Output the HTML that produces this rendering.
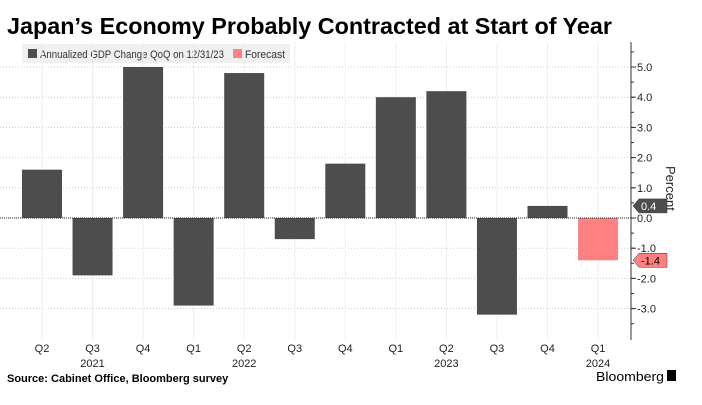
<!DOCTYPE html>
<html><head><meta charset="utf-8"><style>
body{margin:0;width:702px;height:400px;background:#fff;overflow:hidden;font-family:"Liberation Sans",sans-serif}
</style></head><body>
<svg width="702" height="400">
<text x="7" y="34" font-size="23" font-weight="bold" fill="#000" textLength="605" lengthAdjust="spacingAndGlyphs">Japan’s Economy Probably Contracted at Start of Year</text>
<g>
<rect x="22" y="44" width="268" height="19" fill="#f0f0f0"/>
<rect x="28" y="49" width="9" height="9" fill="#4d4d4d"/>
<text x="40" y="58" font-size="11" fill="#333" textLength="184" lengthAdjust="spacingAndGlyphs">Annualized GDP Change QoQ on 12/31/23</text>
<rect x="233" y="49" width="9" height="9" fill="#ff8080"/>
<text x="245" y="58" font-size="11" fill="#333" textLength="40" lengthAdjust="spacingAndGlyphs">Forecast</text>
</g>
<g id="grid"></g>
<g id="bars"></g>
<g id="axis"></g>
<text x="7" y="382" font-size="11" font-weight="bold" fill="#000">Source: Cabinet Office, Bloomberg survey</text>
<text x="596" y="381" font-size="13" fill="#000" textLength="68" lengthAdjust="spacingAndGlyphs">Bloomberg</text>
<rect x="667" y="370" width="9" height="11" fill="#000"/>
</svg>
<script>
const categories=["Q2","Q3","Q4","Q1","Q2","Q3","Q4","Q1","Q2","Q3","Q4","Q1"];
const yearLabels=["","2021","","","2022","","","","2023","","","2024"];
const values=[1.6,-1.9,5.0,-2.9,4.8,-0.7,1.8,4.0,4.2,-3.2,0.4,-1.4];
const forecast=[false,false,false,false,false,false,false,false,false,false,false,true];
const ticks=[5,4,3,2,1,0,-1,-2,-3];
const NS="http://www.w3.org/2000/svg";
const L=0,R=631,T=42,B=340;
const y=v=>218-v*30.2;
const slot=50.55;
const xc=i=>42+slot*i;
function mk(t,a,p){const e=document.createElementNS(NS,t);for(const k in a)e.setAttribute(k,a[k]);p.appendChild(e);return e;}
const g=document.getElementById('grid'),b=document.getElementById('bars'),ax=document.getElementById('axis');
ticks.forEach(t=>{
 const l=mk('line',{x1:L,x2:R,y1:y(t),y2:y(t),stroke:'#ccc','stroke-dasharray':'1,2'},g);
 
 
 const tl=mk('line',{x1:R,x2:R+5,y1:y(t),y2:y(t),stroke:'#333'},ax);
 
 
 const tx=mk('text',{x:R+6,y:y(t)+4,'font-size':11,fill:'#222'},ax);
 tx.textContent=(t<0?'-':'')+Math.abs(t).toFixed(1);
 
 
});
for(let t=5.5;t>-4;t-=0.5){mk('line',{x1:R,x2:R+3,y1:y(t),y2:y(t),stroke:'#333'},ax);}
categories.forEach((c,i)=>{
 const vl=mk('line',{x1:xc(i),x2:xc(i),y1:T,y2:B,stroke:'#eee'},g);
 
 
 const v=values[i];
 const r=mk('rect',{x:xc(i)-20,width:40,y:Math.min(y(v),y(0)),height:Math.abs(y(v)-y(0)),fill:forecast[i]?'#ff8080':'#4d4d4d'},b);
 
 
 const tx=mk('text',{x:xc(i),y:352,'font-size':11,fill:'#222','text-anchor':'middle'},ax);
 tx.textContent=c;
 
 
 if(yearLabels[i]){const yt=mk('text',{x:xc(i),y:367,'font-size':11,fill:'#222','text-anchor':'middle'},ax);yt.textContent=yearLabels[i];
 
 }
});
mk('line',{x1:L,x2:R,y1:y(0),y2:y(0),stroke:'#222','stroke-dasharray':'1,1'},b);
const axl=mk('line',{x1:R,x2:R,y1:T,y2:B,stroke:'#333'},ax);


const yt=mk('text',{transform:`translate(666,166) rotate(90)`,'font-size':13,fill:'#222'},ax);
yt.textContent='Percent';


[[10,'#4d4d4d','#fff'],[11,'#ff8080','#000']].forEach(([i,bg,fg])=>{
 const yy=y(values[i]);
 const p=mk('path',{d:`M${R+2},${yy} L${R+8},${yy-7} H${R+36} V${yy+7} H${R+8} Z`,fill:bg,stroke:'#333','stroke-width':0.5},ax);
 
 
 const t=mk('text',{x:R+10,y:yy+4,'font-size':11,fill:fg},ax);
 t.textContent=values[i].toFixed(1);
 
 
});
</script>
</body></html>
